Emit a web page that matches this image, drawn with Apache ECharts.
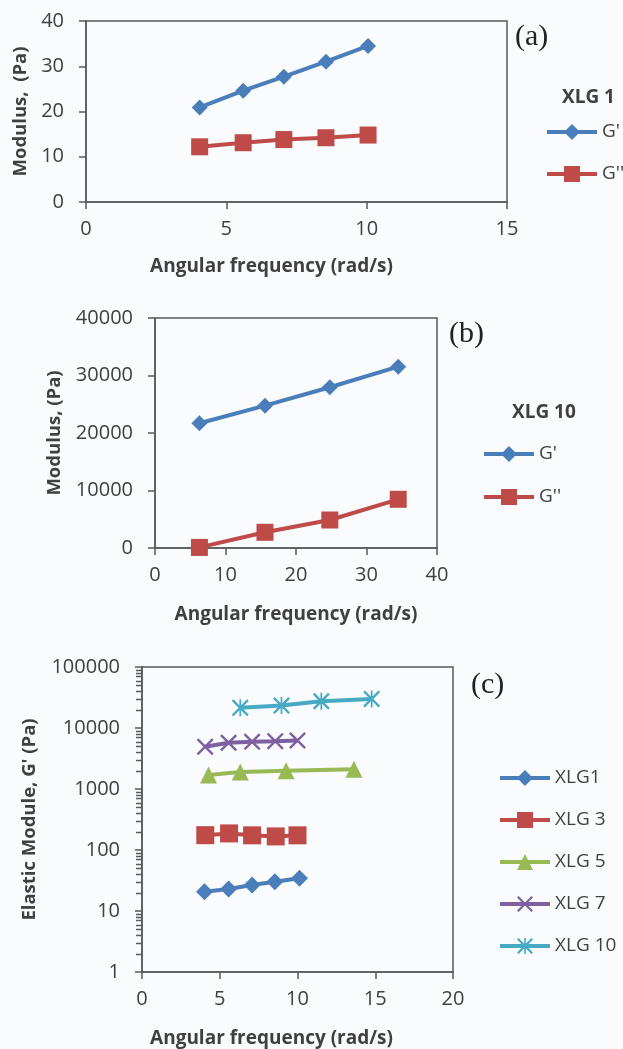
<!DOCTYPE html>
<html>
<head>
<meta charset="utf-8">
<script src="https://cdn.jsdelivr.net/npm/echarts@6.0.0/dist/echarts.min.js"></script>
<style>
html,body{margin:0;padding:0;background:#fafbfd}
#main{width:623px;height:1049px}
</style>
</head>
<body>
<div id="main"></div>
<script>
// panel (a) XLG 1
var freqA = [4.05, 5.6, 7.05, 8.55, 10.05];
var gPrimeA = [20.9, 24.6, 27.7, 31.0, 34.5];
var gDoubleA = [12.2, 13.1, 13.8, 14.2, 14.8];
// panel (b) XLG 10
var freqB = [6.3, 15.6, 24.8, 34.5];
var gPrimeB = [21700, 24750, 27950, 31530];
var gDoubleB = [100, 2730, 4870, 8470];
// panel (c) elastic modulus, log scale
var freq1 = [4.02, 5.57, 7.08, 8.54, 10.13];
var xlg1 = [20.7, 23, 26.7, 30.2, 34.4];
var freq3 = [4.07, 5.6, 7.08, 8.6, 10.0];
var xlg3 = [175, 187, 174, 167, 174];
var freq5 = [4.28, 6.32, 9.27, 13.63];
var xlg5 = [1700, 1900, 2000, 2100];
var freq7 = [4.06, 5.57, 7.08, 8.57, 10.0];
var xlg7 = [4930, 5730, 5950, 6090, 6250];
var freq10 = [6.32, 8.97, 11.53, 14.77];
var xlg10 = [21400, 23300, 27400, 30000];

var seriesNamesA = ["G'", "G''"];
var seriesNamesC = ['XLG1', 'XLG 3', 'XLG 5', 'XLG 7', 'XLG 10'];

// small ticks 2..9 in every decade of the log axis
var minorValues = [];
for (var d = 1; d <= 10000; d *= 10) {
    for (var m = 2; m <= 9; m++) minorValues.push(m * d);
}

function pairs(xs, ys) {
    return xs.map(function (x, i) { return [x, ys[i]]; });
}

var blue = '#4a7ebb', red = '#be4b48', green = '#98b954', purple = '#7d60a0', cyan = '#46aac5';
var axisCol = '#595959', txtCol = '#404040';
var xMark = 'path://M2,0 L10,8 L18,0 L20,2 L12,10 L20,18 L18,20 L10,12 L2,20 L0,18 L8,10 L0,2 Z';
var starMark = 'path://M2,0 L10,8 L18,0 L20,2 L12,10 L20,18 L18,20 L10,12 L2,20 L0,18 L8,10 L0,2 Z M9,0 L11,0 L11,20 L9,20 Z';

function line(name, idx, data, color, symbol, size) {
    return {
        name: name, type: 'line', xAxisIndex: idx, yAxisIndex: idx,
        data: data, symbol: symbol, symbolSize: size,
        lineStyle: {color: color, width: 4},
        itemStyle: {color: color}
    };
}

function xAx(idx, max, interval, gap, pad) {
    return {
        type: 'value', gridIndex: idx, min: 0, max: max, interval: interval,
        name: 'Angular frequency (rad/s)', nameLocation: 'middle', nameGap: gap,
        nameTextStyle: {fontFamily: 'Open Sans', fontWeight: 'bold', fontSize: 19, color: txtCol, padding: pad},
        axisLine: {lineStyle: {color: axisCol, width: 1.5}},
        axisTick: {show: true, length: 7, lineStyle: {color: axisCol, width: 1.5}},
        axisLabel: {fontFamily: 'Open Sans', fontSize: 20, color: txtCol, margin: 17},
        splitLine: {show: false}
    };
}

function yAx(idx, name, gap, extra) {
    var o = {
        type: 'value', gridIndex: idx,
        name: name, nameLocation: 'middle', nameGap: gap,
        nameTextStyle: {fontFamily: 'Open Sans', fontWeight: 'bold', fontSize: 18.5, color: txtCol},
        axisLine: {show: true, lineStyle: {color: axisCol, width: 1.5}},
        axisTick: {show: true, length: 7, lineStyle: {color: axisCol, width: 1.5}},
        axisLabel: {fontFamily: 'Open Sans', fontSize: 20, color: txtCol, margin: 22,
            formatter: function (v) { return String(Math.round(v)); }},
        splitLine: {show: false}
    };
    for (var k in extra) o[k] = extra[k];
    return o;
}

function legend(names, left, top, gap) {
    return {
        data: names, orient: 'vertical', left: left, top: top, padding: 0,
        itemWidth: 50, itemHeight: 20, itemGap: gap,
        lineStyle: {width: 4},
        textStyle: {fontFamily: 'Open Sans', fontSize: 19, color: txtCol, lineHeight: 20, width: 80, overflow: 'none'}
    };
}

function label(text, x, y) {
    return {type: 'text', x: x, y: y, style: {text: text, font: '30px "Liberation Serif"', fill: '#222', verticalAlign: 'middle'}};
}

var labels = [
    label('(a)', 515, 37),
    label('(b)', 449, 334),
    label('(c)', 471, 685),
    {type: 'text', x: 562, y: 98, style: {text: 'XLG 1', font: 'bold 19px "Open Sans"', fill: txtCol, verticalAlign: 'middle'}},
    {type: 'text', x: 512, y: 413, style: {text: 'XLG 10', font: 'bold 19px "Open Sans"', fill: txtCol, verticalAlign: 'middle'}}
];

var chart = echarts.init(document.getElementById('main'));
var option = {
    animation: false,
    backgroundColor: '#fafbfd',
    grid: [
        {left: 86, top: 21, width: 421, height: 181, show: true, borderColor: axisCol, borderWidth: 1.5, backgroundColor: 'transparent'},
        {left: 155, top: 318, width: 282, height: 230, show: true, borderColor: axisCol, borderWidth: 1.5, backgroundColor: 'transparent'},
        {left: 142, top: 667, width: 311, height: 306, show: true, borderColor: axisCol, borderWidth: 1.5, backgroundColor: 'transparent'}
    ],
    xAxis: [
        xAx(0, 15, 5, 55, [0, 50, 0, 0]),
        xAx(1, 40, 10, 57, 0),
        xAx(2, 20, 5, 57, [0, 52, 0, 0])
    ],
    yAxis: [
        yAx(0, 'Modulus,  (Pa)', 53, {min: 0, max: 40, interval: 10}),
        yAx(1, 'Modulus, (Pa)', 91, {min: 0, max: 40000, interval: 10000}),
        yAx(2, "Elastic Module, G' (Pa)", 103, {type: 'log', logBase: 10, min: 1, max: 100000})
    ],
    legend: [
        legend(seriesNamesA, 545, 122, 22),
        legend(seriesNamesA, 482, 444, 23),
        legend(seriesNamesC, 498, 768, 22)
    ],
    graphic: labels,
    series: [
        line(seriesNamesA[0], 0, pairs(freqA, gPrimeA), blue, 'diamond', 16),
        line(seriesNamesA[1], 0, pairs(freqA, gDoubleA), red, 'rect', 17),
        line(seriesNamesA[0], 1, pairs(freqB, gPrimeB), blue, 'diamond', 16),
        line(seriesNamesA[1], 1, pairs(freqB, gDoubleB), red, 'rect', 17),
        line(seriesNamesC[0], 2, pairs(freq1, xlg1), blue, 'diamond', 17),
        line(seriesNamesC[1], 2, pairs(freq3, xlg3), red, 'rect', 18),
        line(seriesNamesC[2], 2, pairs(freq5, xlg5), green, 'triangle', 17),
        line(seriesNamesC[3], 2, pairs(freq7, xlg7), purple, xMark, 17),
        line(seriesNamesC[4], 2, pairs(freq10, xlg10), cyan, starMark, 17)
    ]
};
chart.setOption(option);

// minor ticks on the log axis, placed through the chart's own coordinate system
var ticks = [];
minorValues.forEach(function (v) {
    var p = chart.convertToPixel({seriesIndex: 4}, [0, v]);
    if (!p || isNaN(p[1])) return;
    var y = Math.round(p[1]) + 0.5;
    ticks.push({type: 'line', silent: true, z: 100,
        shape: {x1: p[0] - 6, y1: y, x2: p[0], y2: y},
        style: {stroke: axisCol, lineWidth: 1.5}});
});
chart.setOption({graphic: labels.concat(ticks)});
</script>
</body>
</html>
